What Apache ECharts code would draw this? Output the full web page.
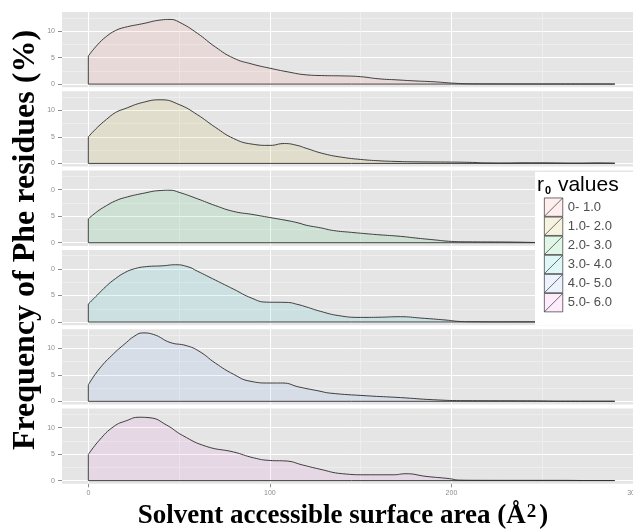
<!DOCTYPE html>
<html><head><meta charset="utf-8">
<script src="https://cdn.jsdelivr.net/npm/echarts@6/dist/echarts.min.js"></script>
<style>html,body{margin:0;padding:0;background:#fff}#c{width:633px;height:530px}</style>
</head><body><div id="c"></div>
<script>
// ---- data ----
const categories = ['0- 1.0', '1.0- 2.0', '2.0- 3.0', '3.0- 4.0', '4.0- 5.0', '5.0- 6.0'];
const xTicks = [0, 100, 200, 300];
const xMinorTicks = [50, 150, 250];
const yTicks = [0, 5, 10];
const yMinorTicks = [2.5, 7.5, 12.5];

const r0_0_1 = [[0,5.3],[5,7.4],[10,9.0],[15,10.1],[20,10.7],[30,11.4],[40,12.1],[45,12.2],[50,11.7],[60,9.6],[70,7.0],[80,4.9],[90,3.8],[100,3.0],[110,2.3],[120,1.75],[130,1.6],[140,1.55],[150,1.4],[160,1.0],[170,0.8],[180,0.6],[190,0.45],[200,0.2],[210,0.06],[220,0.04],[240,0.03],[260,0.03],[290,0.02]];
const r0_1_2 = [[0,5.0],[5,6.8],[10,8.3],[15,9.6],[20,10.3],[30,11.5],[40,12.0],[50,11.1],[60,9.2],[70,6.8],[80,4.7],[90,3.65],[100,3.4],[108,3.75],[115,3.4],[120,2.85],[130,1.8],[140,1.15],[150,0.75],[160,0.5],[170,0.37],[180,0.3],[200,0.25],[210,0.2],[220,0.1],[230,0.08],[240,0.12],[250,0.12],[260,0.08],[270,0.06],[280,0.1],[290,0.06]];
const r0_2_3 = [[0,4.5],[5,5.9],[10,7.0],[15,7.9],[20,8.5],[30,9.3],[40,9.85],[45,9.9],[50,9.5],[60,8.3],[70,7.0],[80,5.9],[90,5.35],[100,4.75],[110,4.15],[116,3.7],[120,3.3],[128,2.8],[135,2.3],[145,1.95],[153,1.7],[160,1.5],[172,1.2],[180,0.9],[190,0.56],[200,0.25],[210,0.17],[220,0.15],[234,0.12],[245,0.05],[250,0.02]];
const r0_3_4 = [[0,3.4],[5,5.1],[10,6.8],[15,8.2],[20,9.3],[25,10.0],[32,10.45],[41,10.6],[48,10.8],[55,10.4],[60,9.6],[70,7.9],[80,6.2],[90,4.5],[98,3.75],[109,3.7],[116,3.25],[120,2.85],[128,2.0],[138,1.2],[150,0.87],[160,0.9],[172,1.0],[183,0.75],[197,0.37],[205,0.1],[212,0.05],[230,0.03],[260,0.03],[290,0.02]];
const r0_4_5 = [[0,3.1],[6,6.1],[14,9.0],[21,11.1],[25,12.2],[30,12.9],[36,12.6],[45,11.1],[54,10.5],[61,9.45],[70,7.2],[80,5.1],[89,3.8],[100,3.45],[107,3.45],[116,2.7],[127,1.95],[133,1.55],[153,1.05],[172,0.7],[190,0.3],[208,0.12],[230,0.1],[247,0.08],[260,0.03],[290,0.02]];
const r0_5_6 = [[0,4.9],[6,7.6],[14,10.2],[21,11.3],[28,11.95],[34,11.85],[43,10.5],[52,8.5],[65,6.45],[80,5.4],[91,4.3],[100,3.8],[109,3.7],[118,2.95],[127,2.2],[140,1.3],[153,1.1],[168,1.1],[175,1.3],[186,0.8],[199,0.37],[204,0.1],[215,0.06],[240,0.05],[261,0.05],[275,0.02],[290,0.02]];
const seriesData = [r0_0_1, r0_1_2, r0_2_3, r0_3_4, r0_4_5, r0_5_6];

// ---- styles ----
const hues = [[248,118,109],[183,159,0],[0,186,56],[0,191,196],[97,156,255],[245,100,227]];
const areaCol = h => `rgba(${h[0]},${h[1]},${h[2]},0.1)`;
const keyCol = h => `rgba(${h[0]},${h[1]},${h[2]},0.12)`;
const outline = { color: '#2b2b2b', width: 0.9 };
const X_MIN = -14.5, X_MAX = 300, Y_MIN = -0.6, Y_MAX = 13.6;
const tickColor = '#8c8c8c';

const grids = [], xAxes = [], yAxes = [], series = [];
for (let i = 0; i < 6; i++) {
  const last = i === 5;
  grids.push({ left: 62, width: 571, top: 12 + i * 79.3, height: 75.3, show: true,
    backgroundColor: '#E5E5E5', borderWidth: 0, containLabel: false, outerBoundsMode: 'none' });
  xAxes.push({ type: 'value', gridIndex: i, min: X_MIN, max: X_MAX, position: 'bottom',
    axisLine: { show: false, onZero: false },
    axisTick: { show: last, customValues: xTicks, length: 3.5, lineStyle: { color: tickColor, width: 1 } },
    axisLabel: { show: last, customValues: xTicks, fontSize: 7, color: tickColor, margin: 6, fontFamily: 'Liberation Sans' },
    splitLine: { show: true, lineStyle: { color: '#ffffff', width: 1 } } });
  xAxes.push({ type: 'value', gridIndex: i, min: X_MIN, max: X_MAX, position: 'bottom',
    axisLine: { show: false, onZero: false },
    axisTick: { show: false, customValues: xMinorTicks },
    axisLabel: { show: false, customValues: xMinorTicks },
    splitLine: { show: true, lineStyle: { color: '#F2F2F2', width: 0.7 } } });
  yAxes.push({ type: 'value', gridIndex: i, min: Y_MIN, max: Y_MAX, position: 'left',
    axisLine: { show: false, onZero: false },
    axisTick: { show: true, customValues: yTicks, length: 4, lineStyle: { color: tickColor, width: 1 } },
    axisLabel: { show: true, customValues: yTicks, fontSize: 7, color: tickColor, margin: 7, fontFamily: 'Liberation Sans' },
    splitLine: { show: true, lineStyle: { color: '#ffffff', width: 1 } } });
  yAxes.push({ type: 'value', gridIndex: i, min: Y_MIN, max: Y_MAX, position: 'left',
    axisLine: { show: false, onZero: false },
    axisTick: { show: false, customValues: yMinorTicks },
    axisLabel: { show: false, customValues: yMinorTicks },
    splitLine: { show: true, lineStyle: { color: '#F2F2F2', width: 0.7 } } });

  const d = seriesData[i];
  series.push({ type: 'line', name: categories[i], xAxisIndex: 2 * i, yAxisIndex: 2 * i,
    data: d, smooth: 0.5, symbol: 'none', showSymbol: false,
    lineStyle: outline, itemStyle: { color: keyCol(hues[i]) },
    areaStyle: { color: areaCol(hues[i]), opacity: 1 }, z: 3 });
  series.push({ type: 'line', name: 'edge' + i, xAxisIndex: 2 * i, yAxisIndex: 2 * i,
    data: [[d[d.length - 1][0], 0], [d[0][0], 0], [d[0][0], d[0][1]]],
    symbol: 'none', showSymbol: false, lineStyle: outline, silent: true, z: 3 });
}

const chart = echarts.init(document.getElementById('c'), null, { renderer: 'canvas' });
chart.setOption({
  animation: false,
  backgroundColor: '#ffffff',
  grid: grids, xAxis: xAxes, yAxis: yAxes, series: series,
  legend: {
    orient: 'vertical', left: 544, top: 197.6, padding: 0, itemGap: 0,
    itemWidth: 18.5, itemHeight: 18.4, selectedMode: false, z: 200,
    icon: 'path://M0,0L20,0L20,20L0,20ZM0,20L20,0',
    textStyle: { fontSize: 13, color: '#4d4d4d', fontFamily: 'Liberation Sans' },
    data: categories.map((c, i) => ({ name: c, itemStyle: { color: keyCol(hues[i]), borderColor: '#333333', borderWidth: 0.7 } }))
  },
  graphic: [
    { type: 'rect', shape: { x: 0, y: 168, width: 50.5, height: 160 }, style: { fill: '#ffffff' }, z: 100 },
    { type: 'text', x: 26, y: 240, rotation: Math.PI / 2, z: 101,
      style: { text: 'Frequency of Phe residues (%)', font: 'bold 32px "Liberation Serif"', fill: '#000', align: 'center', verticalAlign: 'middle' } },
    { type: 'text', x: 343, y: 516, z: 101,
      style: { text: 'Solvent accessible surface area (Å{sup|2})', font: 'bold 27px "Liberation Serif"', fill: '#000', align: 'center', verticalAlign: 'middle',
        rich: { sup: { font: 'bold 19px "Liberation Serif"', fill: '#000', verticalAlign: 'top', padding: [0, 3, 0, 1] } } } },
    { type: 'rect', shape: { x: 535, y: 172, width: 100, height: 153 }, style: { fill: '#ffffff' }, z: 150 },
    { type: 'text', x: 537, y: 175, z: 201,
      style: { text: 'r{sub|0} values', font: '21px "Liberation Sans"', fill: '#000', align: 'left', verticalAlign: 'top',
        rich: { sub: { font: 'bold 11px "Liberation Sans"', fill: '#000', verticalAlign: 'bottom', padding: [0, 1, 0, 1] } } } }
  ]
});
</script></body></html>
